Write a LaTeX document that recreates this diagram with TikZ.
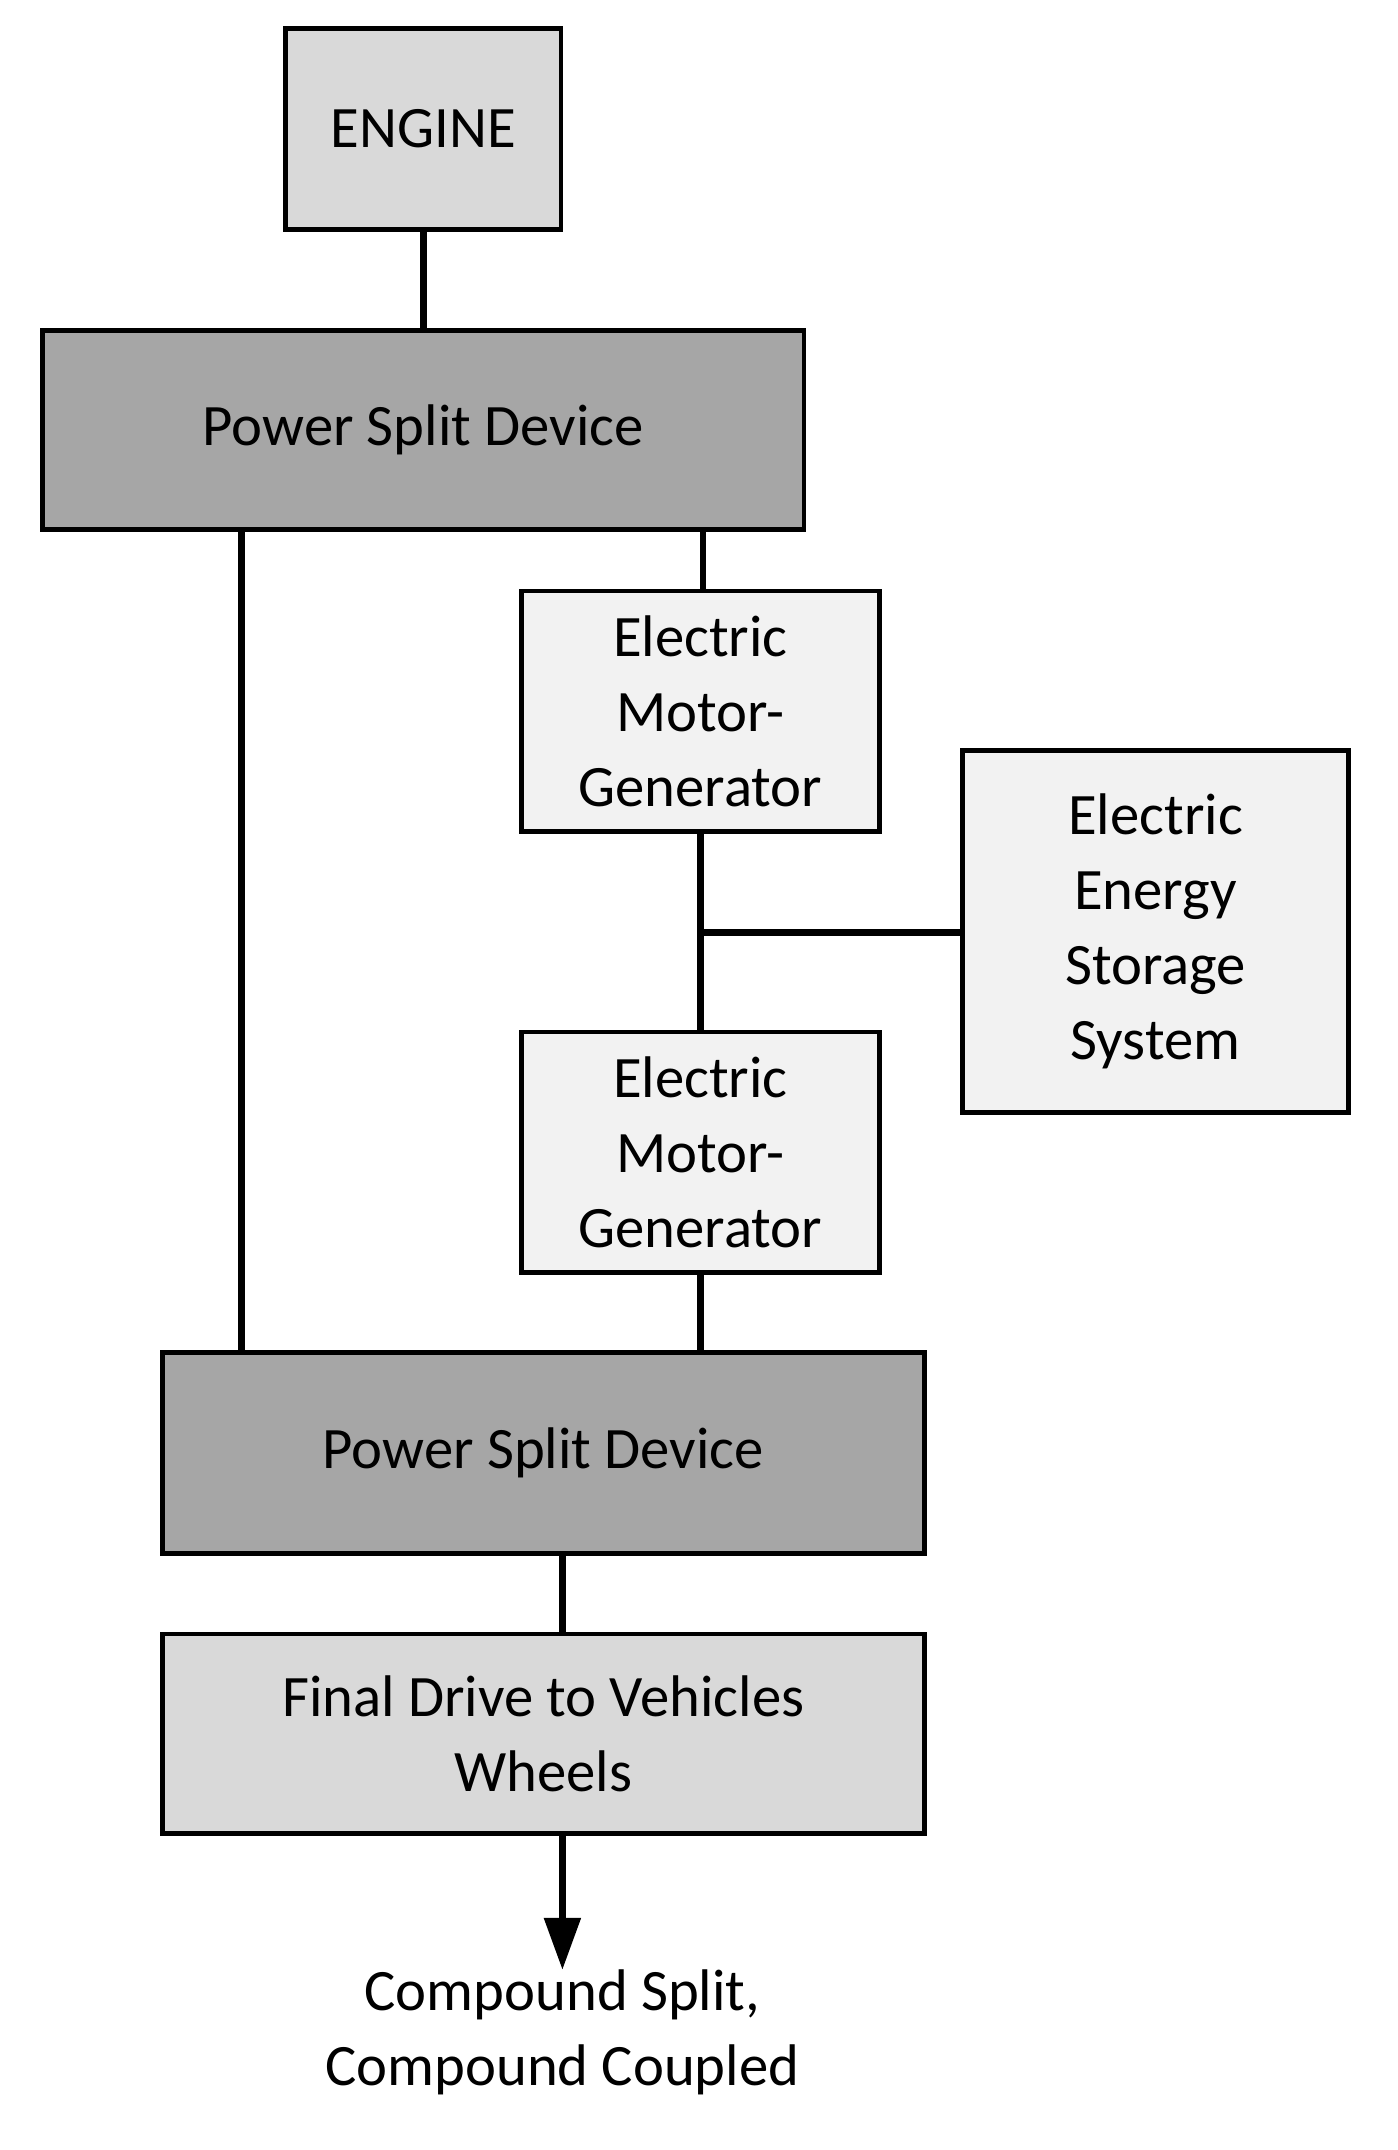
\documentclass[tikz,border=0pt]{standalone}
\usepackage{fontspec}
\setmainfont{Carlito}
\usetikzlibrary{arrows.meta}
\begin{document}
\begin{tikzpicture}[x=1pt,y=-1pt,
 box/.style={draw=black,line width=3.5pt,align=center,inner sep=0pt,font=\fontsize{43}{55}\selectfont},
 ln/.style={line width=5pt}]
\useasboundingbox (0,0) rectangle (1024,1575);
\def\bx#1#2#3#4#5#6#7{\node[box,fill=#6,minimum width=#3-#1,minimum height=#4-#2] (#5) at ({(#1+#3)/2},{(#2+#4)/2}) {#7};}
\bx{209}{21}{411}{168}{eng}{black!15}{ENGINE}
\bx{31}{242}{589}{388}{psd1}{black!35}{Power Split Device}
\bx{382}{433}{644}{609}{emg1}{black!5}{Electric\\Motor-\\Generator}
\bx{705}{550}{988}{815}{ess}{black!5}{Electric\\Energy\\Storage\\System}
\bx{382}{756}{644}{932}{emg2}{black!5}{Electric\\Motor-\\Generator}
\bx{119}{991}{677}{1138}{psd2}{black!35}{Power Split Device}
\bx{119}{1197}{677}{1343}{fd}{black!15}{Final Drive to Vehicles\\Wheels}
\node[align=center,inner sep=0pt,font=\fontsize{43}{55}\selectfont,anchor=north] (lab) at (412,1443) {Compound Split,\\Compound Coupled};
\draw[ln] (eng.south) -- (eng.south|-psd1.north);
\draw[ln] (177,388) coordinate (a) -- (a|-psd2.north);
\draw[ln] (515,388) coordinate (b) -- (b|-emg1.north);
\draw[ln] (513,609) coordinate (c) -- (c|-emg2.north);
\draw[ln] (513,683) coordinate (j) -- (j-|ess.west);
\draw[ln] (513,932) coordinate (d) -- (d|-psd2.north);
\draw[ln] (412,1138) coordinate (e) -- (e|-fd.north);
\draw[ln,-{Triangle[length=38pt,width=26pt]}] (412,1343) coordinate (f) -- (412,1443);
\end{tikzpicture}
\end{document}
